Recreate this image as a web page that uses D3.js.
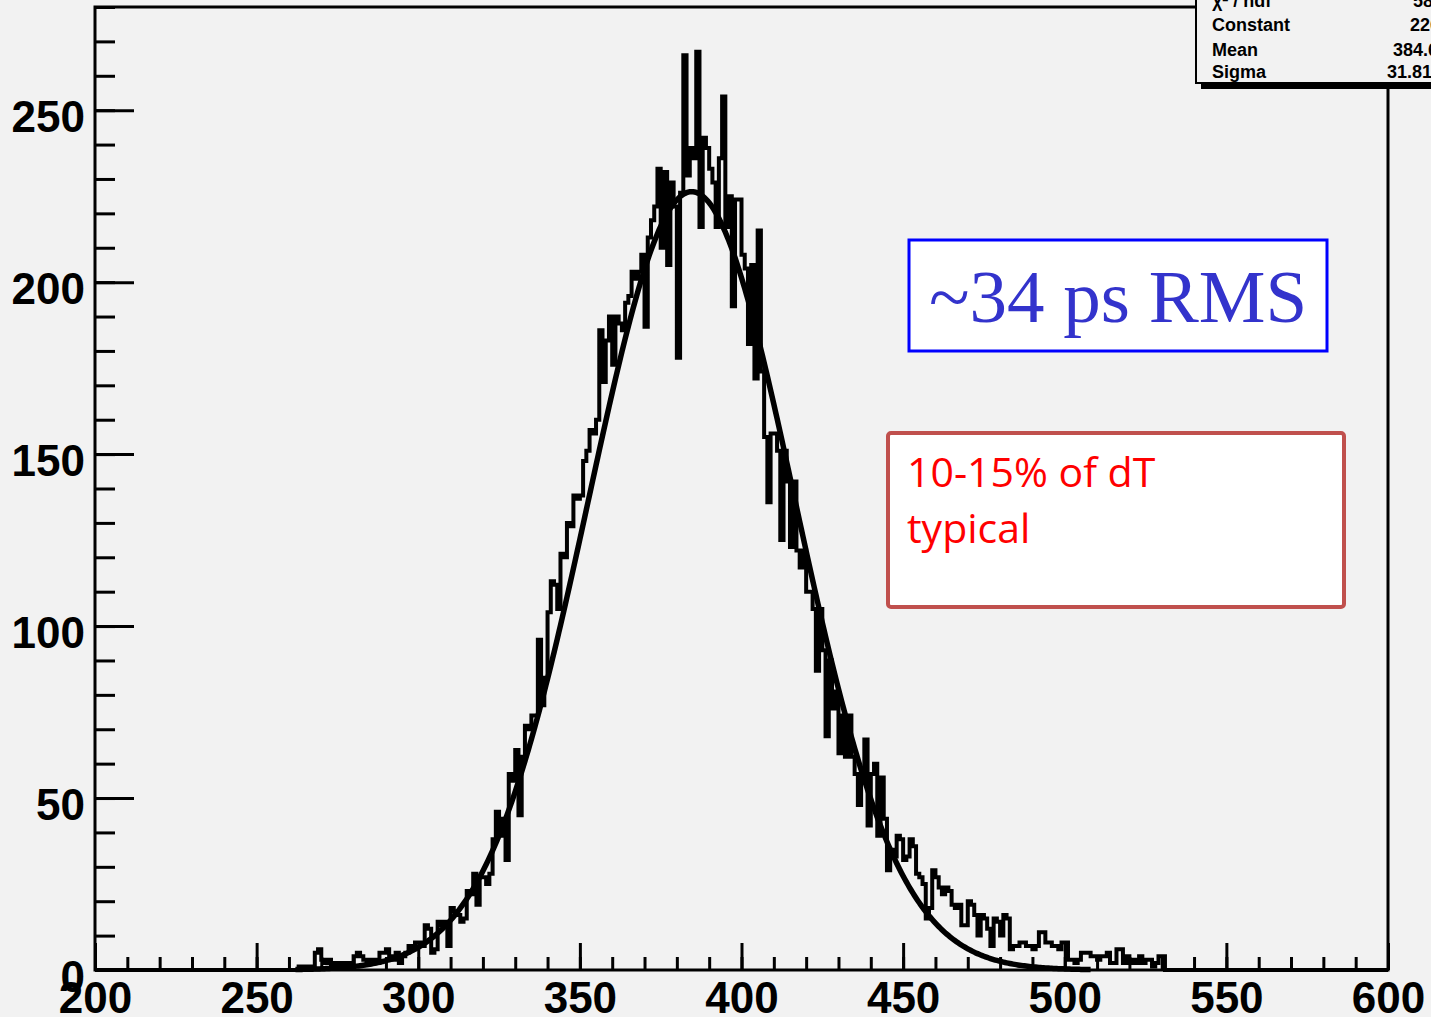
<!DOCTYPE html>
<html>
<head>
<meta charset="utf-8">
<script src="https://cdn.jsdelivr.net/npm/d3@7"></script>
<style>
  html, body { margin: 0; padding: 0; background: #f2f2f2; overflow: hidden; }
  svg { display: block; }
</style>
</head>
<body>
<div id="chart"></div>
<script>
// histogram: 1 ps bins from 200 to 600, non-empty part starts at binStart
const xRange = [200, 600];
const binWidth = 1;
const binStart = 262;
const counts = [
  0, 1, 0, 1, 0, 1, 5, 6, 3, 2, 3, 1, 2, 1, 2, 2, 1, 2,            // 262-279
  4, 5, 4, 3, 2, 3, 3, 2, 5, 5, 6, 4, 3, 5, 2, 4, 5, 7, 6, 8,      // 280-299
  8, 7, 13, 12, 5, 6, 14, 13, 14, 7, 18, 17, 16, 14, 15, 23, 22, 28, 19, 27,   // 300-319
  27, 25, 28, 38, 46, 39, 44, 32, 57, 55, 64, 45, 62, 71, 70, 74, 74, 96, 77, 85, // 320-339
  104, 113, 112, 105, 121, 120, 130, 129, 138, 137, 138, 148, 151, 157, 156, 160, 186, 171, 183, 190, // 340-359
  176, 190, 188, 186, 194, 196, 203, 201, 203, 208, 187, 213, 218, 222, 233, 210, 232, 205, 229, 222, // 360-379
  178, 226, 266, 231, 239, 236, 267, 216, 242, 239, 233, 229, 216, 236, 254, 216, 225, 193, 224, 224, // 380-399
  208, 204, 182, 205, 172, 215, 174, 155, 136, 156, 156, 151, 125, 151, 142, 123, 142, 122, 117, 122, // 400-419
  110, 110, 105, 87, 105, 93, 68, 90, 76, 81, 63, 74, 62, 74, 62, 57, 48, 57, 67, 42,   // 420-439
  57, 60, 39, 56, 44, 29, 35, 33, 39, 38, 32, 33, 38, 36, 28, 27, 25, 15, 18, 29,      // 440-459
  27, 24, 22, 24, 23, 19, 18, 19, 13, 13, 20, 19, 16, 10, 16, 15, 12, 7, 15, 14,       // 460-479
  10, 16, 15, 6, 7, 7, 8, 8, 7, 7, 6, 7, 11, 11, 8, 8, 7, 7, 6, 8,                     // 480-499
  8, 3, 3, 2, 3, 5, 5, 5, 4, 4, 3, 4, 4, 5, 2, 2, 6, 6, 2, 4,                          // 500-519
  2, 3, 2, 4, 2, 3, 3, 1, 2, 4, 4                                                      // 520-530
];

// gaussian fit shown in the stats box
const fitNames = ["Constant", "Mean", "Sigma"];
const fitValues = [226.3, 384.6, 31.81];
const fitRange = [262, 508];

const statLabels = ["\u03c7\u00b2 / ndf", "Constant", "Mean", "Sigma"];
const statTexts = ["58.61 / 96", "226.3 \u00b1 3.1", "384.6 \u00b1 0.3", "31.81 \u00b1 0.24"];

const xTicks = [200, 250, 300, 350, 400, 450, 500, 550, 600];
const yTicks = [0, 50, 100, 150, 200, 250];

const W = 1431, H = 1017;
const frame = { left: 95, right: 1388, top: 7, bottom: 970 };
const labelFont = "'Liberation Sans', Arial, sans-serif";

const svg = d3.select("#chart").append("svg")
    .attr("width", W)
    .attr("height", H);

svg.append("rect").attr("width", W).attr("height", H).attr("fill", "#f2f2f2");

const x = d3.scaleLinear().domain(xRange).range([frame.left, frame.right]);
const y = d3.scaleLinear().domain([0, 280]).range([frame.bottom, frame.top]);

// axes (ticks point inwards, like ROOT)
const yMinor = d3.axisLeft(y).tickValues(d3.range(0, 281, 10)).tickSizeInner(-20).tickSizeOuter(0).tickFormat("");
const yMajor = d3.axisLeft(y).tickValues(yTicks).tickSizeInner(-39).tickSizeOuter(0).tickPadding(10);
const xMinor = d3.axisBottom(x).tickValues(d3.range(200, 601, 10)).tickSizeInner(-13).tickSizeOuter(0).tickFormat("");
const xMajor = d3.axisBottom(x).tickValues(xTicks).tickSizeInner(-27).tickSizeOuter(0).tickPadding(12);

[yMinor, yMajor].forEach(a => {
    svg.append("g").attr("transform", `translate(${frame.left},0)`).call(a);
});
[xMinor, xMajor].forEach(a => {
    svg.append("g").attr("transform", `translate(0,${frame.bottom})`).call(a);
});

svg.selectAll(".domain").remove();
svg.selectAll(".tick line").attr("stroke", "#000").attr("stroke-width", 3);
svg.selectAll(".tick text")
    .attr("fill", "#000")
    .style("font-family", labelFont)
    .style("font-weight", "bold")
    .style("font-size", "44px");
svg.selectAll("g").filter(function () { return this.getAttribute("text-anchor") === "end"; })
    .selectAll(".tick text").attr("dy", "0.48em");

// histogram as a step line over the full range
const allCounts = d3.range(xRange[0], xRange[1], binWidth).map(lo => {
    const i = Math.round((lo - binStart) / binWidth);
    return i >= 0 && i < counts.length ? counts[i] : 0;
});
const steps = allCounts.map((c, i) => [xRange[0] + i * binWidth, c]);
steps.push([xRange[1], 0]);

svg.append("path")
    .datum(steps)
    .attr("fill", "none")
    .attr("stroke", "#000")
    .attr("stroke-width", 4)
    .attr("d", d3.line().x(d => x(d[0])).y(d => y(d[1])).curve(d3.curveStepAfter));

// fit function
const gauss = u => fitValues[0] * Math.exp(-0.5 * Math.pow((u - fitValues[1]) / fitValues[2], 2));
const fitPts = d3.range(fitRange[0], fitRange[1] + 0.01, 0.5).map(u => [u, gauss(u)]);
svg.append("path")
    .datum(fitPts)
    .attr("fill", "none")
    .attr("stroke", "#000")
    .attr("stroke-width", 5.5)
    .attr("d", d3.line().x(d => x(d[0])).y(d => y(d[1])).curve(d3.curveLinear));

// frame
svg.append("rect")
    .attr("x", frame.left).attr("y", frame.top)
    .attr("width", frame.right - frame.left).attr("height", frame.bottom - frame.top)
    .attr("fill", "none").attr("stroke", "#000").attr("stroke-width", 3);

// stats box (cut by the page edge)
svg.append("rect").attr("x", 1201).attr("y", -10).attr("width", 300).attr("height", 99).attr("fill", "#000");
svg.append("rect").attr("x", 1196).attr("y", -10).attr("width", 300).attr("height", 93)
    .attr("fill", "#f2f2f2").attr("stroke", "#000").attr("stroke-width", 2);

const statY = [7, 31, 56, 78];
const statValX = [1413, 1410, 1393, 1387];
statLabels.forEach((t, i) => {
    svg.append("text").attr("x", 1212).attr("y", statY[i]).text(t)
        .style("font-family", labelFont).style("font-weight", "bold").style("font-size", "18px");
    svg.append("text").attr("x", statValX[i]).attr("y", statY[i]).text(statTexts[i])
        .style("font-family", labelFont).style("font-weight", "bold").style("font-size", "18px");
});

// annotation boxes
svg.append("rect").attr("x", 909).attr("y", 240).attr("width", 418).attr("height", 111)
    .attr("fill", "#fff").attr("stroke", "#0000ff").attr("stroke-width", 3);
svg.append("text").attr("x", 929).attr("y", 322).text("~34 ps RMS")
    .attr("fill", "#3333cc")
    .style("font-family", "'Liberation Serif', 'Times New Roman', serif")
    .style("font-size", "75px");

svg.append("rect").attr("x", 888).attr("y", 433).attr("width", 456).attr("height", 174)
    .attr("rx", 3)
    .attr("fill", "#fff").attr("stroke", "#c0504d").attr("stroke-width", 4);
["10-15% of dT", "typical"].forEach((t, i) => {
    svg.append("text").attr("x", 907).attr("y", 487 + i * 56).text(t)
        .attr("fill", "#ff0000")
        .style("font-family", "'Open Sans', 'Liberation Sans', sans-serif")
        .style("font-size", "41px");
});
</script>
</body>
</html>
